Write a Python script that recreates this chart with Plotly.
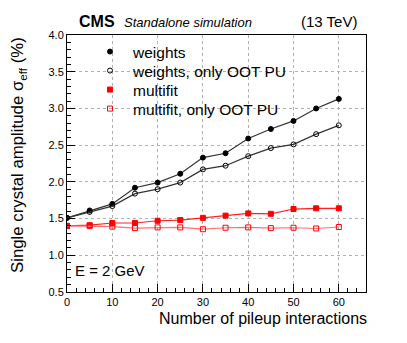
import plotly.graph_objects as go

# number of pileup interactions
n_pu = [0, 5, 10, 15, 20, 25, 30, 35, 40, 45, 50, 55, 60]

# single crystal amplitude sigma_eff (%)
weights = [1.51, 1.61, 1.70, 1.92, 1.99, 2.11, 2.33, 2.39, 2.59, 2.72, 2.83, 3.00, 3.13]
weights_oot = [1.51, 1.59, 1.67, 1.84, 1.90, 1.99, 2.17, 2.22, 2.35, 2.46, 2.51, 2.65, 2.77]
multifit = [1.40, 1.41, 1.44, 1.44, 1.47, 1.48, 1.51, 1.54, 1.57, 1.565, 1.63, 1.64, 1.64]
multifit_oot = [1.40, 1.40, 1.39, 1.37, 1.38, 1.38, 1.355, 1.375, 1.38, 1.37, 1.375, 1.365, 1.385]

series = [
    ("weights", weights, "#000000", "#333333", "circle", 5),
    ("weights, only OOT PU", weights_oot, "#000000", "#333333", "circle-open", 5),
    ("multifit", multifit, "#ff0000", "#ff2020", "square", 5),
    ("multifit, only OOT PU", multifit_oot, "#ff0000", "#ff7070", "square-open", 5),
]

FONT = "Liberation Sans, Arial, Helvetica, sans-serif"

# the page body has an 8px margin, so the figure is drawn at (8, 8)
OFF = 8
W, H = 407 - 2 * OFF, 343 - 2 * OFF
# plot frame in page pixels (for placing annotations)
L, R, T, B = 67, 366, 35, 292
# legend row centres (page pixels), one legend box per entry
legend_rows = [52, 71, 90, 109]


def py(ypx):
    return (B - ypx) / (B - T)


def px(xpx):
    return (xpx - L) / (R - L)


fig = go.Figure()
for name, vals, mcol, lcol, sym, size in series:
    fig.add_trace(go.Scatter(
        x=n_pu, y=vals, mode="lines+markers", showlegend=False,
        line=dict(color=lcol, width=1.2),
        marker=dict(color=mcol, symbol=sym, size=size, line=dict(color=mcol, width=1)),
    ))
# legend entries show marker only, like ROOT
legends = {}
for i, (name, vals, mcol, lcol, sym, size) in enumerate(series):
    lg = "legend" if i == 0 else f"legend{i + 1}"
    fig.add_trace(go.Scatter(
        x=[None], y=[None], mode="markers", name=name, legend=lg,
        marker=dict(color=mcol, symbol=sym, size=size, line=dict(color=mcol, width=1)),
    ))
    legends[lg] = dict(
        x=px(87), y=py(legend_rows[i]), xanchor="left", yanchor="middle",
        bgcolor="rgba(0,0,0,0)", font=dict(size=15.5, family=FONT, color="black"),
        itemwidth=36,
    )

axis_common = dict(
    showline=True, linecolor="black", linewidth=1, mirror=True,
    ticks="inside", ticklen=8, tickcolor="black",
    showgrid=True, gridcolor="#b0b0b0", griddash="dot", gridwidth=1,
    zeroline=False, tickfont=dict(size=11, color="black", family=FONT),
)

fig.update_xaxes(
    range=[0, 66], dtick=10, tick0=0,
    minor=dict(dtick=2, ticks="inside", ticklen=4, tickcolor="black", showgrid=False),
    **axis_common,
)
fig.update_yaxes(
    range=[0.5, 4.0], dtick=0.5, tick0=0.5, tickformat=".1f",
    minor=dict(dtick=0.1, ticks="inside", ticklen=4, tickcolor="black", showgrid=False),
    **axis_common,
)

annotations = [
    dict(text="<b>CMS</b>", x=px(77), y=py(22), xanchor="left", yanchor="middle",
         font=dict(size=16)),
    dict(text="<i>Standalone simulation</i>", x=px(122), y=py(23), xanchor="left",
         yanchor="middle", font=dict(size=13)),
    dict(text="(13 TeV)", x=px(359), y=py(22), xanchor="right", yanchor="middle",
         font=dict(size=15)),
    dict(text="E = 2 GeV", x=px(73), y=py(270), xanchor="left", yanchor="middle",
         font=dict(size=15)),
    dict(text="Number of pileup interactions", x=px(369), y=py(318), xanchor="right",
         yanchor="middle", font=dict(size=16)),
    dict(text="Single crystal amplitude σ<sub>eff</sub> (%)", x=px(18), y=py(35),
         xanchor="center", yanchor="top", textangle=-90, font=dict(size=16.8)),
]
for a in annotations:
    a.update(xref="paper", yref="paper", showarrow=False)
    a["font"].update(family=FONT, color="black")

fig.update_layout(
    width=W, height=H,
    margin=dict(l=L - OFF, r=W - (R - OFF), t=T - OFF, b=H - (B - OFF)),
    paper_bgcolor="white", plot_bgcolor="white",
    font=dict(family=FONT, color="black"),
    annotations=annotations,
    **legends,
)

fig.write_html("out.html")
